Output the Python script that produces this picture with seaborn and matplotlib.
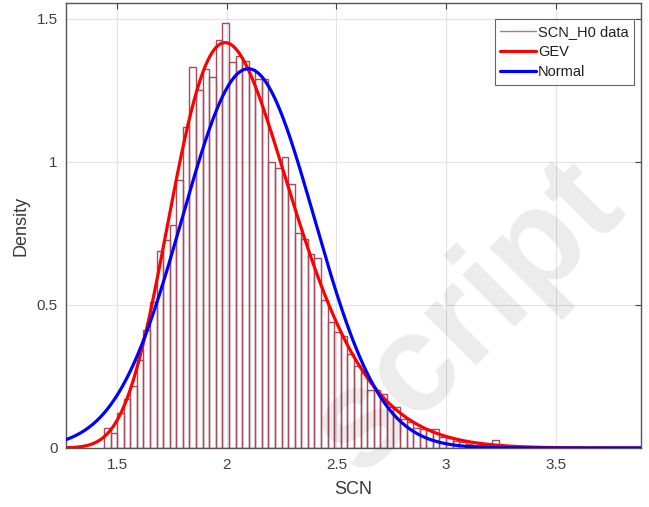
import numpy as np
import pandas as pd
import matplotlib
matplotlib.use("Agg")
import matplotlib.pyplot as plt
import seaborn as sns
from matplotlib.lines import Line2D

# ---- data ----
bin_width = 0.03
bin_start = 1.44
bin_heights = [
    0.070, 0.054, 0.124, 0.170, 0.215, 0.308, 0.413, 0.511, 0.689, 0.727,
    0.781, 0.936, 1.122, 1.331, 1.250, 1.325, 1.296, 1.427, 1.485, 1.349,
    1.370, 1.352, 1.325, 1.290, 1.290, 1.000, 0.977, 1.017, 0.924, 0.750,
    0.732, 0.677, 0.665, 0.517, 0.442, 0.407, 0.393, 0.330, 0.285, 0.262,
    0.203, 0.203, 0.190, 0.142, 0.142, 0.100, 0.090, 0.070, 0.065, 0.066,
    0.066, 0.040, 0.035, 0.025, 0.020, 0.015, 0.012, 0.010, 0.010, 0.029,
]
# fitted distribution parameters
gev_k, gev_sigma, gev_mu = -0.10, 0.261, 1.965
norm_mu, norm_sigma = 2.098, 0.301

x_ticks = [1.5, 2, 2.5, 3, 3.5]
x_ticklabels = ["1.5", "2", "2.5", "3", "3.5"]
y_ticks = [0, 0.5, 1, 1.5]
y_ticklabels = ["0", "0.5", "1", "1.5"]
legend_labels = ["SCN_H0 data", "GEV", "Normal"]
x_label = "SCN"
y_label = "Density"
watermark = "script"

# ---- derived ----
n_bins = len(bin_heights)
edges = [round(bin_start + bin_width * i, 4) for i in range(n_bins + 1)]
centers = [(edges[i] + edges[i + 1]) / 2 for i in range(n_bins)]
hist_df = pd.DataFrame({"SCN": centers, "w": bin_heights})

xs = np.linspace(1.267, 3.89, 600)


def gev_pdf(x, k, s, m):
    t = 1 + k * (x - m) / s
    out = np.zeros_like(x)
    ok = t > 0
    T = t[ok] ** (-1.0 / k)
    out[ok] = (1.0 / s) * T ** (k + 1) * np.exp(-T)
    return out


def norm_pdf(x, m, s):
    return np.exp(-0.5 * ((x - m) / s) ** 2) / (s * np.sqrt(2 * np.pi))


curve_df = pd.DataFrame({
    "x": np.concatenate([xs, xs]),
    "y": np.concatenate([gev_pdf(xs, gev_k, gev_sigma, gev_mu),
                         norm_pdf(xs, norm_mu, norm_sigma)]),
    "fit": ["GEV"] * len(xs) + ["Normal"] * len(xs),
})

sns.set_theme(style="white")
plt.rcParams["font.family"] = ["Liberation Sans", "DejaVu Sans"]

fig = plt.figure(figsize=(6.49, 5.07), dpi=100)
ax = fig.add_axes([0.1017, 0.1164, 0.8863, 0.8776])

hist_color = "#a84a5c"
sns.histplot(data=hist_df, x="SCN", weights="w", bins=edges, stat="count",
             element="bars", fill=False, color=hist_color, linewidth=1.0,
             ax=ax, zorder=2)
sns.lineplot(data=curve_df, x="x", y="y", hue="fit",
             palette={"GEV": "#ff0000", "Normal": "#0000ff"},
             linewidth=2.3, ax=ax, legend=False, zorder=3)

ax.set_xlim(1.267, 3.89)
ax.set_ylim(0, 1.555)
ax.set_xticks(x_ticks)
ax.set_xticklabels(x_ticklabels)
ax.set_yticks(y_ticks)
ax.set_yticklabels(y_ticklabels)
ax.set_xlabel(x_label, fontsize=13, color="#3a3a3a", labelpad=7)
ax.set_ylabel(y_label, fontsize=13, color="#3a3a3a", labelpad=5)

ax.grid(True, color="#e3e3e3", linewidth=0.8, zorder=0)
ax.set_axisbelow(True)
ax.tick_params(axis="both", direction="in", length=4, width=0.8,
               colors="#404040", labelsize=11, top=True, right=True,
               labelcolor="#404040")
ax.tick_params(axis="x", pad=7)
ax.tick_params(axis="y", pad=6)
for sp in ax.spines.values():
    sp.set_color("#555555")
    sp.set_linewidth(1.0)

handles = [Line2D([], [], color="#c87082", lw=1.0),
           Line2D([], [], color="#ff0000", lw=2.3),
           Line2D([], [], color="#0000ff", lw=2.3)]
leg = ax.legend(handles, legend_labels, loc="upper right",
                bbox_to_anchor=(0.988, 0.9646), fontsize=10.5, frameon=True,
                fancybox=False, handlelength=2.45, handletextpad=0.12,
                labelspacing=0.42, borderpad=0.4, borderaxespad=0.0)
leg.get_frame().set_edgecolor("#404040")
leg.get_frame().set_linewidth(0.8)
for t in leg.get_texts():
    t.set_color("#202020")

fig.text(468 / 649, 1 - 318 / 507, watermark, fontsize=100, rotation=45,
         color="#000000", alpha=0.08, ha="center", va="center",
         fontweight="semibold", rotation_mode="anchor", zorder=10)

fig.savefig("out.png", dpi=100, facecolor="white")
